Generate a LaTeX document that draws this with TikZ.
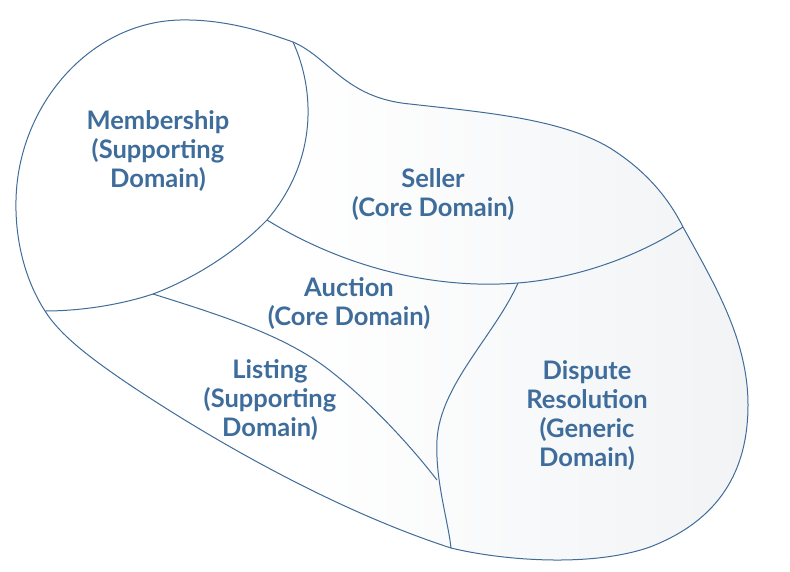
\documentclass[tikz,border=0pt]{standalone}
\usepackage{fontspec}
\setmainfont{Lato}
\definecolor{edge}{HTML}{3F6C98}
\definecolor{txt}{HTML}{3E6D9C}
\definecolor{greyfill}{HTML}{F1F3F5}
\begin{document}
\begin{tikzpicture}[x=1pt,y=-1pt,
  region/.style={draw=edge,line width=1pt},
  label/.style={align=center,text=txt,font=\fontsize{25.5}{29}\selectfont\bfseries}]
\useasboundingbox (0,0) rectangle (790,571);
\def\outerpath{(45,311) .. controls (25,280) and (15,240) .. (16,200)
  .. controls (18,105) and (90,22) .. (180,20)
  .. controls (225,19) and (265,32) .. (293,42)
  .. controls (330,58) and (345,98) .. (410,104)
  .. controls (480,112) and (560,118) .. (610,148)
  .. controls (645,170) and (668,197) .. (683,227)
  .. controls (715,285) and (748,340) .. (748,405)
  .. controls (748,470) and (720,520) .. (650,547)
  .. controls (590,568) and (500,560) .. (451,548)
  .. controls (340,512) and (220,445) .. (130,385)
  .. controls (90,358) and (60,335) .. (45,311) -- cycle}
\begin{scope}
  \clip \outerpath;
  \fill[white] (0,0) rectangle (790,571);
  \shade[left color=white,right color=greyfill] (290,0) rectangle (750,571);
\end{scope}
\draw[region] \outerpath;
% Membership right boundary
\draw[region] (293,42) .. controls (315,90) and (318,160) .. (267,220)
  .. controls (230,258) and (185,282) .. (153,294);
% Membership bottom
\draw[region] (153,294) .. controls (120,305) and (80,311) .. (45,311);
% Seller bottom
\draw[region] (267,220) .. controls (340,265) and (430,290) .. (518,283)
  .. controls (580,278) and (640,255) .. (683,227);
% Listing / Auction
\draw[region] (153,294) .. controls (230,318) and (290,338) .. (333,373)
  .. controls (370,402) and (410,445) .. (437,480);
% Auction / Dispute
\draw[region] (518,283) .. controls (495,335) and (440,385) .. (437,440)
  .. controls (435,480) and (448,520) .. (451,548);
\node[label] (membership) at (158,151) {Membership\\(Supporting\\Domain)};
\node[label] (seller) at (433,195) {Seller\\(Core Domain)};
\node[label] (auction) at (349,304) {Auction\\(Core Domain)};
\node[label] (listing) at (270,400) {Listing\\(Supporting\\Domain)};
\node[label] (dispute) at (587,416) {Dispute\\Resolution\\(Generic\\Domain)};
\end{tikzpicture}
\end{document}
